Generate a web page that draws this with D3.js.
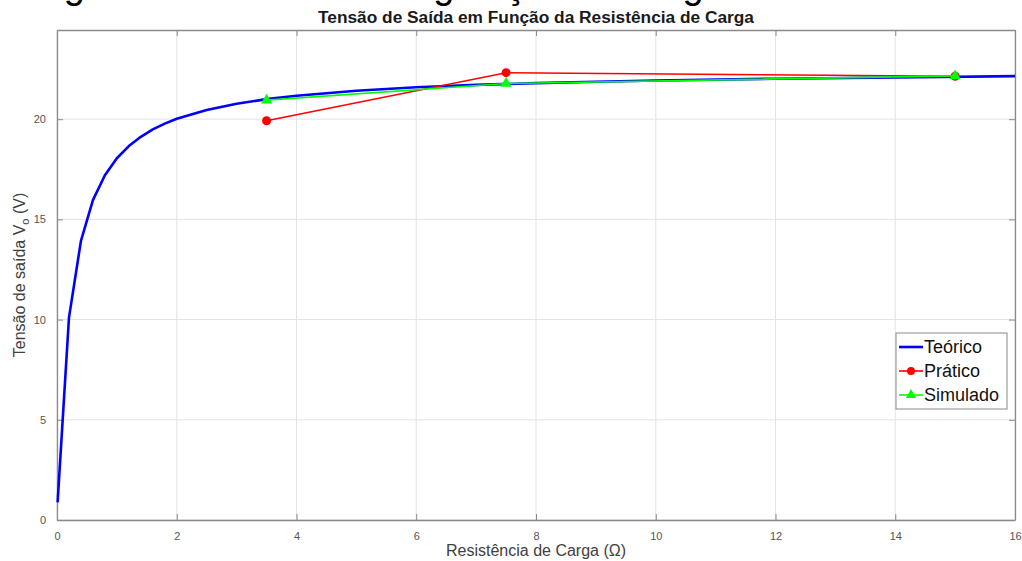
<!DOCTYPE html>
<html>
<head>
<meta charset="utf-8">
<script src="https://cdn.jsdelivr.net/npm/d3@7"></script>
<style>
  body { margin: 0; background: #fff; }
  svg { display: block; font-family: 'Liberation Sans', Arial, sans-serif; }
</style>
</head>
<body>
<div id="chart"></div>
<script>
// Teórico: curva
const rTeorico = [0.01, 0.2, 0.4, 0.6, 0.8, 1.0, 1.2, 1.4, 1.6, 1.8, 2.0, 2.5, 3.0, 3.5, 4, 5, 6, 7, 8, 9, 10, 12, 14, 16]
const vTeorico = [0.88, 10.1, 13.93, 15.96, 17.2, 18.05, 18.66, 19.12, 19.49, 19.78, 20.02, 20.46, 20.77, 21.0, 21.17, 21.42, 21.59, 21.71, 21.8, 21.87, 21.93, 22.02, 22.08, 22.15]

// medições
const rMedido = [3.5, 7.5, 15]
const vPratico = [19.92, 22.32, 22.14]
const vSimulado = [20.95, 21.78, 22.16]

const xTicks = [0, 2, 4, 6, 8, 10, 12, 14, 16]
const yTicks = [0, 5, 10, 15, 20]

const width = 1022
const height = 561
const margin = { top: 30, right: 7, bottom: 41, left: 57 }
const innerW = width - margin.left - margin.right
const innerH = height - margin.top - margin.bottom

const svg = d3.select('#chart')
  .append('svg')
  .attr('width', width)
  .attr('height', height)

// cabeçalho cortado no topo da imagem
svg.append('text')
  .attr('x', 32)
  .attr('y', -2)
  .attr('font-size', 38)
  .attr('fill', '#000')
  .text('Figura 4 – Gráfico da regulação de carga')

const x = d3.scaleLinear().domain([0, 16]).range([0, innerW])
const y = d3.scaleLinear().domain([0, 24.45]).range([innerH, 0])

const g = svg.append('g')
  .attr('transform', `translate(${margin.left}, ${margin.top})`)

// grade
g.append('g')
  .selectAll('line')
  .data(xTicks)
  .join('line')
  .attr('x1', d => x(d)).attr('x2', d => x(d))
  .attr('y1', 0).attr('y2', innerH)
  .attr('stroke', '#e3e3e3')
  .attr('stroke-width', 1)

g.append('g')
  .selectAll('line')
  .data(yTicks)
  .join('line')
  .attr('x1', 0).attr('x2', innerW)
  .attr('y1', d => y(d)).attr('y2', d => y(d))
  .attr('stroke', '#e3e3e3')
  .attr('stroke-width', 1)

// eixos
const xAxis = d3.axisBottom(x).tickValues(xTicks).tickSizeInner(-6).tickSizeOuter(0).tickPadding(12)
const yAxis = d3.axisLeft(y).tickValues(yTicks).tickSizeInner(-6).tickSizeOuter(0).tickPadding(11)

g.append('g')
  .attr('transform', `translate(0, ${innerH})`)
  .call(xAxis)
g.append('g').call(yAxis)

g.append('g')
  .call(d3.axisTop(x).tickValues(xTicks).tickSizeInner(-6).tickSizeOuter(0).tickFormat(''))
g.append('g')
  .attr('transform', `translate(${innerW}, 0)`)
  .call(d3.axisRight(y).tickValues(yTicks).tickSizeInner(-6).tickSizeOuter(0).tickFormat(''))

g.selectAll('.domain').attr('stroke', '#8a8a8a').attr('stroke-width', 1.3)
g.selectAll('.tick line').attr('stroke', '#8a8a8a').attr('stroke-width', 1)
g.selectAll('.tick text').attr('fill', '#555').attr('font-size', 11)

// linhas
const line = d3.line().x(d => x(d[0])).y(d => y(d[1]))

const teorico = rTeorico.map((r, i) => [r, vTeorico[i]])
const pratico = rMedido.map((r, i) => [r, vPratico[i]])
const simulado = rMedido.map((r, i) => [r, vSimulado[i]])

g.append('path')
  .datum(teorico)
  .attr('d', line)
  .attr('fill', 'none')
  .attr('stroke', '#0000ff')
  .attr('stroke-width', 2.6)
  .attr('stroke-linejoin', 'round')

g.append('path')
  .datum(pratico)
  .attr('d', line)
  .attr('fill', 'none')
  .attr('stroke', '#ff0000')
  .attr('stroke-width', 1.6)

g.selectAll('circle.pratico')
  .data(pratico)
  .join('circle')
  .attr('class', 'pratico')
  .attr('cx', d => x(d[0]))
  .attr('cy', d => y(d[1]))
  .attr('r', 4.5)
  .attr('fill', '#ff0000')

g.append('path')
  .datum(simulado)
  .attr('d', line)
  .attr('fill', 'none')
  .attr('stroke', '#00ff00')
  .attr('stroke-width', 1.6)

const tri = d3.symbol().type(d3.symbolTriangle).size(55)
g.selectAll('path.simulado')
  .data(simulado)
  .join('path')
  .attr('class', 'simulado')
  .attr('d', tri)
  .attr('transform', d => `translate(${x(d[0])}, ${y(d[1])})`)
  .attr('fill', '#00ff00')

// títulos
svg.append('text')
  .attr('x', margin.left + innerW / 2)
  .attr('y', 23)
  .attr('text-anchor', 'middle')
  .attr('font-weight', 'bold')
  .attr('font-size', 16)
  .attr('textLength', 436)
  .attr('lengthAdjust', 'spacingAndGlyphs')
  .attr('fill', '#1a1a1a')
  .text('Tensão de Saída em Função da Resistência de Carga')

svg.append('text')
  .attr('x', margin.left + innerW / 2)
  .attr('y', 556)
  .attr('text-anchor', 'middle')
  .attr('font-size', 16)
  .attr('fill', '#404040')
  .text('Resistência de Carga (Ω)')

const yLabel = svg.append('text')
  .attr('transform', `translate(25, ${margin.top + innerH / 2}) rotate(-90)`)
  .attr('text-anchor', 'middle')
  .attr('font-size', 16)
  .attr('fill', '#404040')
yLabel.append('tspan').text('Tensão de saída V')
yLabel.append('tspan').attr('font-size', 11).attr('dy', 4).text('o')
yLabel.append('tspan').attr('dy', -4).text(' (V)')

// legenda
const series = [
  { name: 'Teórico', color: '#0000ff', width: 2.6, marker: null },
  { name: 'Prático', color: '#ff0000', width: 1.6, marker: 'circle' },
  { name: 'Simulado', color: '#00ff00', width: 1.6, marker: 'triangle' }
]

const legend = svg.append('g').attr('transform', 'translate(896, 333)')
legend.append('rect')
  .attr('width', 111)
  .attr('height', 76)
  .attr('fill', '#fff')
  .attr('stroke', '#8a8a8a')
  .attr('stroke-width', 1)

const item = legend.selectAll('g.item')
  .data(series)
  .join('g')
  .attr('transform', (d, i) => `translate(0, ${14 + i * 24})`)

item.append('line')
  .attr('x1', 3).attr('x2', 27)
  .attr('stroke', d => d.color)
  .attr('stroke-width', d => d.width)

item.filter(d => d.marker === 'circle')
  .append('circle')
  .attr('cx', 15).attr('r', 4).attr('fill', d => d.color)

item.filter(d => d.marker === 'triangle')
  .append('path')
  .attr('d', d3.symbol().type(d3.symbolTriangle).size(45))
  .attr('transform', 'translate(15, 0)')
  .attr('fill', d => d.color)

item.append('text')
  .attr('x', 28)
  .attr('dy', '0.35em')
  .attr('font-size', 18)
  .attr('fill', '#111')
  .text(d => d.name)
</script>
</body>
</html>
